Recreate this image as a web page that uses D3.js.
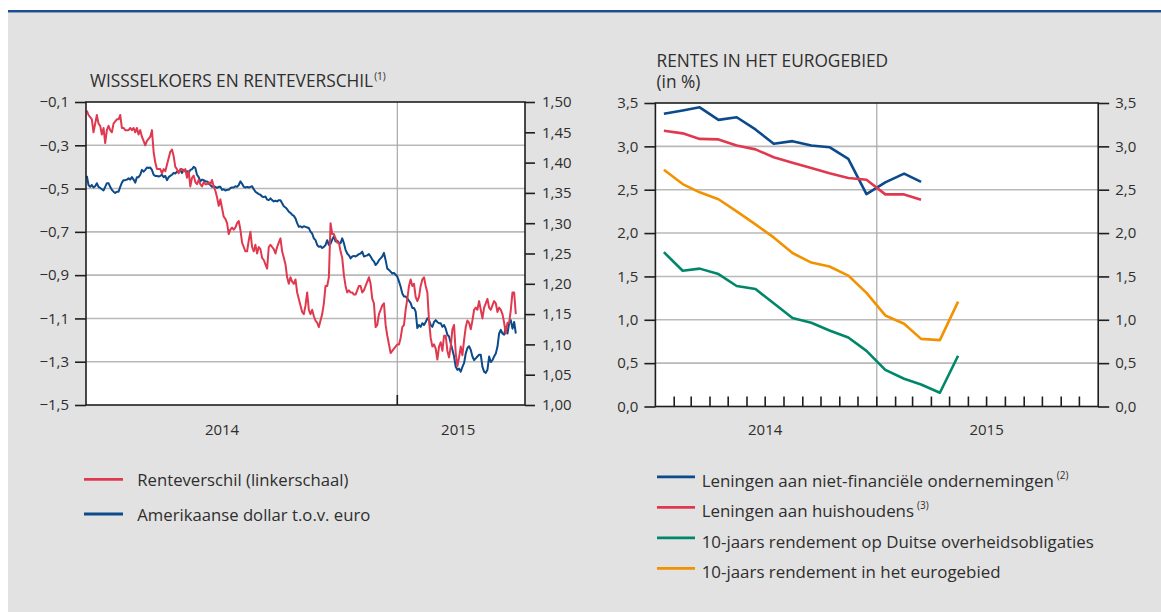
<!DOCTYPE html>
<html><head><meta charset="utf-8">
<script src="https://cdn.jsdelivr.net/npm/d3@7"></script>
<style>
html,body{margin:0;padding:0;background:#fff;}
svg text{font-family:"Open Sans",sans-serif;fill:#2e2e2e;}
</style></head><body>
<svg id="chart" width="1161" height="612"></svg>
<script>
// ---------------- DATA ----------------
// Left panel: daily-ish series sampled every 2 days
const fxStartDate = "2013-12-25";
const fxStepDays = 2;
const spreadValues = [
-0.14,-0.16,-0.17,-0.18,-0.24,-0.20,-0.16,-0.20,-0.21,-0.25,
-0.22,-0.29,-0.23,-0.21,-0.23,-0.24,-0.20,-0.19,-0.18,-0.18,
-0.16,-0.22,-0.22,-0.23,-0.23,-0.23,-0.22,-0.23,-0.22,-0.24,
-0.22,-0.25,-0.23,-0.26,-0.28,-0.30,-0.28,-0.27,-0.26,-0.23,
-0.33,-0.38,-0.41,-0.41,-0.41,-0.43,-0.41,-0.42,-0.39,-0.36,
-0.33,-0.32,-0.35,-0.40,-0.41,-0.43,-0.41,-0.41,-0.42,-0.41,
-0.45,-0.42,-0.49,-0.45,-0.44,-0.47,-0.48,-0.46,-0.48,-0.49,
-0.47,-0.48,-0.48,-0.47,-0.48,-0.46,-0.49,-0.51,-0.54,-0.58,
-0.55,-0.59,-0.63,-0.64,-0.66,-0.71,-0.69,-0.68,-0.69,-0.68,
-0.66,-0.65,-0.69,-0.75,-0.77,-0.79,-0.79,-0.74,-0.70,-0.77,
-0.79,-0.76,-0.80,-0.77,-0.78,-0.82,-0.83,-0.85,-0.87,-0.77,
-0.76,-0.77,-0.78,-0.80,-0.77,-0.75,-0.73,-0.79,-0.82,-0.85,
-0.91,-0.94,-0.91,-0.93,-0.94,-0.92,-0.98,-1.01,-1.04,-1.07,
-1.08,-1.04,-0.98,-1.06,-1.08,-1.06,-1.09,-1.11,-1.12,-1.14,
-1.11,-1.08,-1.03,-0.95,-0.95,-0.91,-0.66,-0.71,-0.71,-0.73,
-0.75,-0.75,-0.79,-0.82,-0.90,-0.95,-0.98,-0.97,-0.98,-0.98,
-0.99,-0.99,-0.97,-0.95,-0.95,-0.98,-0.97,-0.95,-0.93,-0.91,
-0.94,-1.01,-1.03,-1.14,-1.13,-1.08,-1.06,-1.04,-1.03,-1.13,
-1.18,-1.22,-1.26,-1.25,-1.24,-1.23,-1.22,-1.22,-1.19,-1.14,
-1.13,-1.06,-1.01,-0.95,-0.92,-0.95,-0.94,-1.00,-1.02,-1.00,
-0.95,-0.92,-0.91,-0.95,-0.98,-1.11,-1.19,-1.23,-1.22,-1.24,
-1.29,-1.23,-1.21,-1.25,-1.18,-1.18,-1.25,-1.28,-1.23,-1.15,
-1.13,-1.26,-1.32,-1.28,-1.23,-1.27,-1.20,-1.14,-1.11,-1.12,
-1.15,-1.11,-1.06,-1.05,-1.06,-1.02,-1.06,-1.10,-1.05,-1.03,
-1.01,-1.05,-1.06,-1.04,-1.02,-1.03,-1.07,-1.05,-1.06,-1.08,
-1.12,-1.17,-1.12,-1.12,-1.06,-0.98,-0.98,-1.08
];
const usdPerEuro = [
1.378,1.363,1.360,1.363,1.359,1.361,1.366,1.360,1.358,1.356,
1.354,1.360,1.366,1.366,1.360,1.355,1.352,1.350,1.352,1.352,
1.360,1.367,1.371,1.371,1.372,1.374,1.372,1.376,1.372,1.367,
1.376,1.376,1.380,1.388,1.385,1.388,1.392,1.391,1.392,1.388,
1.380,1.378,1.378,1.377,1.378,1.380,1.376,1.378,1.371,1.376,
1.378,1.380,1.383,1.382,1.385,1.385,1.388,1.383,1.388,1.385,
1.386,1.383,1.388,1.389,1.393,1.391,1.380,1.376,1.369,1.372,
1.371,1.369,1.369,1.365,1.363,1.360,1.361,1.360,1.358,1.360,
1.360,1.355,1.356,1.354,1.355,1.355,1.358,1.359,1.359,1.361,
1.360,1.363,1.369,1.365,1.360,1.359,1.360,1.359,1.360,1.361,
1.356,1.352,1.350,1.348,1.347,1.344,1.343,1.344,1.339,1.338,
1.341,1.338,1.336,1.337,1.336,1.338,1.338,1.333,1.328,1.326,
1.323,1.319,1.317,1.314,1.312,1.308,1.300,1.294,1.295,1.293,
1.295,1.294,1.293,1.292,1.286,1.283,1.275,1.272,1.264,1.261,
1.262,1.259,1.261,1.264,1.272,1.264,1.266,1.273,1.278,1.270,
1.271,1.268,1.267,1.275,1.267,1.256,1.250,1.247,1.242,1.245,
1.246,1.245,1.247,1.249,1.250,1.253,1.245,1.246,1.247,1.249,
1.245,1.240,1.237,1.231,1.234,1.239,1.242,1.245,1.251,1.239,
1.225,1.223,1.220,1.217,1.218,1.215,1.212,1.204,1.195,1.184,
1.179,1.179,1.176,1.172,1.168,1.160,1.160,1.154,1.127,1.132,
1.129,1.135,1.132,1.137,1.143,1.140,1.132,1.129,1.137,1.140,
1.137,1.135,1.135,1.129,1.132,1.126,1.116,1.113,1.102,1.091,
1.080,1.063,1.058,1.060,1.055,1.063,1.069,1.085,1.094,1.097,
1.091,1.080,1.074,1.077,1.080,1.083,1.083,1.063,1.055,1.053,
1.058,1.080,1.071,1.074,1.080,1.085,1.096,1.118,1.124,1.118,
1.116,1.129,1.118,1.135,1.140,1.126,1.137,1.118
];
const spreadTicks = [-0.1,-0.3,-0.5,-0.7,-0.9,-1.1,-1.3,-1.5];
const fxTicks = [1.00,1.05,1.10,1.15,1.20,1.25,1.30,1.35,1.40,1.45,1.50];
const leftYearLabels = ["2014","2015"];
const leftYearLabelDates = ["2014-06-05","2015-03-15"];
const leftLegend = ["Renteverschil (linkerschaal)","Amerikaanse dollar t.o.v. euro"];

// Right panel: monthly rates (in %), starting January 2014
const rateStartMonth = "2014-01-15";
const nfcLoans       = [3.375,3.414,3.45,3.305,3.336,3.195,3.03,3.06,3.01,2.99,2.855,2.45,2.585,2.685,2.59];
const householdLoans = [3.18,3.15,3.086,3.08,3.01,2.965,2.875,2.81,2.75,2.69,2.635,2.615,2.446,2.446,2.385];
const bund10y        = [1.78,1.565,1.59,1.527,1.39,1.354,1.19,1.02,0.965,0.877,0.796,0.642,0.423,0.32,0.254,0.158,0.585];
const euroArea10y    = [2.73,2.565,2.47,2.39,2.25,2.10,1.95,1.77,1.66,1.615,1.51,1.31,1.05,0.954,0.78,0.765,1.21];
const rateTicks = [0,0.5,1.0,1.5,2.0,2.5,3.0,3.5];
const rightYearLabels = ["2014","2015"];
const rightLegend = [
  {name:"Leningen aan niet-financiële ondernemingen", sup:"(2)", color:"#0b4a8b"},
  {name:"Leningen aan huishoudens", sup:"(3)", color:"#e0394f"},
  {name:"10-jaars rendement op Duitse overheidsobligaties", sup:"", color:"#00876a"},
  {name:"10-jaars rendement in het eurogebied", sup:"", color:"#f39200"}
];

// ---------------- DRAW ----------------
const parse = d3.utcParse("%Y-%m-%d");
const nl = d3.formatLocale({decimal:",", thousands:".", grouping:[3], currency:["€",""], minus:"\u2212"});
const f1 = nl.format(".1f"), f2 = nl.format(".2f");
const RED = "#e0394f", BLUE = "#0b4a8b";
const GRID = "#b9b9b9", AXIS = "#1e1e1e";

const svg = d3.select("#chart");
svg.append("rect").attr("x",8).attr("y",12.5).attr("width",1153).attr("height",600).attr("fill","#e2e2e2");
svg.append("line").attr("x1",8).attr("x2",1161).attr("y1",11.2).attr("y2",11.2).attr("stroke","#1c4d8e").attr("stroke-width",2.4);

// ===== Left panel =====
const L = {x0:86, x1:525, y0:102, y1:405};
const fxStart = parse(fxStartDate);
const fxDates = spreadValues.map((_, i) => d3.utcDay.offset(fxStart, i * fxStepDays));
const xL = d3.scaleUtc().domain([parse("2013-12-24"), parse("2015-06-03")]).range([L.x0, L.x1]);
const ySp = d3.scaleLinear().domain([-1.5, -0.1]).range([L.y1, L.y0]);
const yFx = d3.scaleLinear().domain([1.0, 1.5]).range([L.y1, L.y0]);

const gL = svg.append("g");
gL.append("rect").attr("x",L.x0).attr("y",L.y0).attr("width",L.x1-L.x0).attr("height",L.y1-L.y0).attr("fill","#fff");
gL.selectAll(".hg").data(spreadTicks.slice(1,-1)).join("line")
  .attr("x1",L.x0).attr("x2",L.x1).attr("y1",d=>ySp(d)).attr("y2",d=>ySp(d))
  .attr("stroke",GRID).attr("stroke-width",1.6);
const x2015L = xL(parse("2015-01-01"));
gL.append("line").attr("x1",x2015L).attr("x2",x2015L).attr("y1",L.y0).attr("y2",L.y1).attr("stroke","#a8a8a8").attr("stroke-width",1.2);
gL.append("line").attr("x1",x2015L).attr("x2",x2015L).attr("y1",L.y1-10).attr("y2",L.y1).attr("stroke",AXIS).attr("stroke-width",1.6);

gL.append("path").datum(usdPerEuro)
  .attr("d", d3.line().x((d,i)=>xL(fxDates[i])).y(d=>yFx(d)))
  .attr("fill","none").attr("stroke",BLUE).attr("stroke-width",2).attr("stroke-linejoin","round");
gL.append("path").datum(spreadValues)
  .attr("d", d3.line().x((d,i)=>xL(fxDates[i])).y(d=>ySp(d)))
  .attr("fill","none").attr("stroke",RED).attr("stroke-width",2).attr("stroke-linejoin","round");

gL.append("rect").attr("x",L.x0).attr("y",L.y0).attr("width",L.x1-L.x0).attr("height",L.y1-L.y0)
  .attr("fill","none").attr("stroke",AXIS).attr("stroke-width",1.6);

function styleAxis(g){
  g.select(".domain").remove();
  g.selectAll(".tick line").attr("stroke",AXIS).attr("stroke-width",1.6);
  g.selectAll(".tick text").attr("font-size",15).attr("font-family","Open Sans, sans-serif").attr("fill","#2e2e2e");
}
svg.append("g").attr("transform",`translate(${L.x0},0)`)
  .call(d3.axisLeft(ySp).tickValues(spreadTicks).tickSize(11).tickPadding(6).tickFormat(f1)).call(styleAxis);
svg.append("g").attr("transform",`translate(${L.x1},0)`)
  .call(d3.axisRight(yFx).tickValues(fxTicks).tickSize(10).tickPadding(7).tickFormat(f2)).call(styleAxis);

svg.selectAll(".ylabL").data(leftYearLabels).join("text")
  .attr("x",(d,i)=>xL(parse(leftYearLabelDates[i]))).attr("y",435).attr("text-anchor","middle")
  .attr("font-size",15).text(d=>d);

const t1 = svg.append("text").attr("x",90).attr("y",87).attr("font-size",17.3);
t1.append("tspan").text("WISSSELKOERS EN RENTEVERSCHIL");
t1.append("tspan").attr("font-size",10).attr("dx",1).attr("dy",-7).text("(1)");

// left legend
const leftColors = [RED, BLUE];
const lg = svg.append("g");
leftLegend.forEach((name,i)=>{
  const yy = 479.3 + i*34.7;
  lg.append("line").attr("x1",84).attr("x2",123).attr("y1",yy).attr("y2",yy).attr("stroke",leftColors[i]).attr("stroke-width",2.8);
  lg.append("text").attr("x",137.3).attr("y",yy+6.5).attr("font-size",16.7).text(name);
});

// ===== Right panel =====
const R = {x0:655.4, x1:1098.2, y0:103, y1:406.5};
const xR = d3.scaleUtc().domain([parse("2014-01-01"), parse("2016-01-01")]).range([R.x0, R.x1]);
const yRate = d3.scaleLinear().domain([0, 3.5]).range([R.y1, R.y0]);
const rStart = parse(rateStartMonth);
const monthDate = i => d3.utcDay.offset(d3.utcMonth.offset(d3.utcMonth.floor(rStart), i), 14);

const gR = svg.append("g");
gR.append("rect").attr("x",R.x0).attr("y",R.y0).attr("width",R.x1-R.x0).attr("height",R.y1-R.y0).attr("fill","#fff");
gR.selectAll(".hg").data(rateTicks.slice(1,-1)).join("line")
  .attr("x1",R.x0).attr("x2",R.x1).attr("y1",d=>yRate(d)).attr("y2",d=>yRate(d))
  .attr("stroke",GRID).attr("stroke-width",1.6);
const x2015R = xR(parse("2015-01-01"));
gR.append("line").attr("x1",x2015R).attr("x2",x2015R).attr("y1",R.y0).attr("y2",R.y1).attr("stroke","#a8a8a8").attr("stroke-width",1.2);
// monthly inner ticks
const monthTicks = d3.utcMonth.range(parse("2014-02-01"), parse("2016-01-01"));
gR.selectAll(".mt").data(monthTicks).join("line")
  .attr("x1",d=>xR(d)).attr("x2",d=>xR(d)).attr("y1",R.y1-10).attr("y2",R.y1)
  .attr("stroke",AXIS).attr("stroke-width",1.6);

const rateSeries = [nfcLoans, householdLoans, bund10y, euroArea10y];
rateSeries.forEach((s,k)=>{
  gR.append("path").datum(s)
    .attr("d", d3.line().x((d,i)=>xR(monthDate(i))).y(d=>yRate(d)))
    .attr("fill","none").attr("stroke",rightLegend[k].color).attr("stroke-width",2.6).attr("stroke-linejoin","round");
});
gR.append("rect").attr("x",R.x0).attr("y",R.y0).attr("width",R.x1-R.x0).attr("height",R.y1-R.y0)
  .attr("fill","none").attr("stroke",AXIS).attr("stroke-width",1.6);

svg.append("g").attr("transform",`translate(${R.x0},0)`)
  .call(d3.axisLeft(yRate).tickValues(rateTicks).tickSize(11).tickPadding(6).tickFormat(f1)).call(styleAxis);
svg.append("g").attr("transform",`translate(${R.x1},0)`)
  .call(d3.axisRight(yRate).tickValues(rateTicks).tickSize(11).tickPadding(6).tickFormat(f1)).call(styleAxis);

svg.selectAll(".ylabR").data(rightYearLabels).join("text")
  .attr("x",d=>xR(parse(d+"-07-01"))).attr("y",435).attr("text-anchor","middle")
  .attr("font-size",15).text(d=>d);

const t2 = svg.append("text").attr("x",656.5).attr("y",67).attr("font-size",17.3);
t2.append("tspan").attr("x",656.5).text("RENTES IN HET EUROGEBIED");
t2.append("tspan").attr("x",656.5).attr("dy",21).text("(in %)");

const rg = svg.append("g");
rightLegend.forEach((it,i)=>{
  const yy = 476.9 + i*30.5;
  rg.append("line").attr("x1",657).attr("x2",695).attr("y1",yy).attr("y2",yy).attr("stroke",it.color).attr("stroke-width",2.8);
  const t = rg.append("text").attr("x",701.7).attr("y",yy+9.6).attr("font-size",16.9);
  t.append("tspan").text(it.name);
  if (it.sup) t.append("tspan").attr("font-size",10).attr("dx",3).attr("dy",-8).text(it.sup);
});
</script>
</body></html>
